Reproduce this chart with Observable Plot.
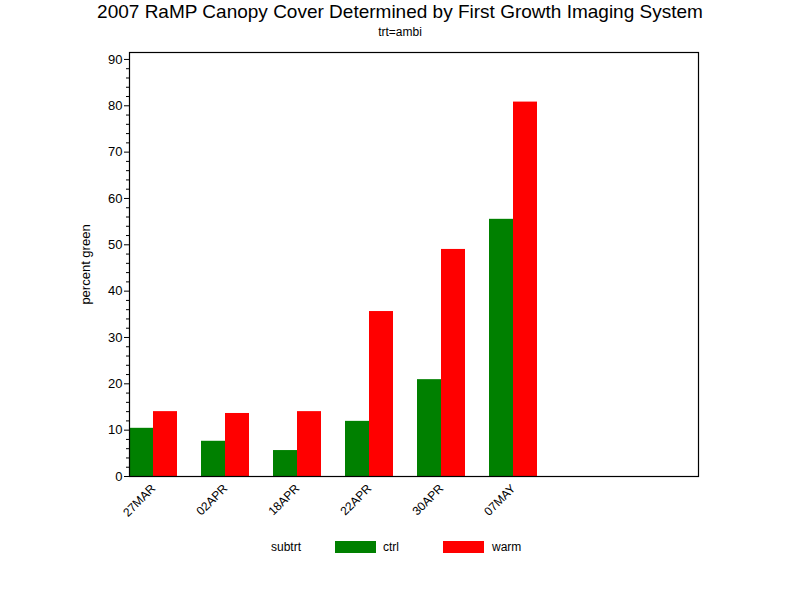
<!DOCTYPE html>
<html><head><meta charset="utf-8">
<script src="https://cdn.jsdelivr.net/npm/d3@7"></script>
<script src="https://cdn.jsdelivr.net/npm/@observablehq/plot@0.6"></script>
<style>
body{margin:0;background:#fff;font-family:"Liberation Sans","DejaVu Sans",sans-serif;}
#wrap{position:relative;width:800px;height:600px;}
.abs{position:absolute;white-space:nowrap;color:#000;z-index:2;}
</style></head>
<body><div id="wrap">
<div id="chart" style="position:absolute;left:0;top:0;z-index:1;"></div>
<div class="abs" id="title" style="left:0;width:800px;text-align:center;top:1px;font-size:19px;">2007 RaMP Canopy Cover Determined by First Growth Imaging System</div>
<div class="abs" id="sub" style="left:0;width:800px;text-align:center;top:25px;font-size:12px;">trt=ambi</div>
<div class="abs" id="legend" style="top:540px;left:0;font-size:12px;height:14px;line-height:14px;"></div>
</div>
<script>
const dates = ["27MAR","02APR","18APR","22APR","30APR","07MAY"];
const ctrl = [10.4, 7.6, 5.6, 11.9, 20.9, 55.5];
const warm = [14.0, 13.6, 14.0, 35.6, 49.0, 80.8];
const subtrts = ["ctrl","warm"];
const colors = ["#008000","#ff0000"];
const yTicks = d3.range(0, 91, 10);
const yMinor = d3.range(0, 91, 2).filter(v => v % 10 !== 0);

const ctrlRows = dates.map((d,i)=>({date:d, subtrt:"ctrl", value:ctrl[i]}));
const warmRows = dates.map((d,i)=>({date:d, subtrt:"warm", value:warm[i]}));

const font = '"Liberation Sans","DejaVu Sans",sans-serif';
const chart = Plot.plot({
  width: 800, height: 600,
  marginLeft: 129, marginRight: 102, marginTop: 52, marginBottom: 124,
  style: {fontFamily: font, fontSize: "12px", background: "white", color: "black"},
  x: {domain: dates, range: [129, 537], paddingInner: 1/3, paddingOuter: 0, axis: null},
  y: {domain: [0, 91.5], axis: null},
  color: {domain: subtrts, range: colors},
  marks: [
    Plot.barY(ctrlRows, {x:"date", y:"value", fill:"subtrt", insetRight: 24}),
    Plot.barY(warmRows, {x:"date", y:"value", fill:"subtrt", insetLeft: 24}),
    Plot.axisY({ticks: yTicks, tickSize: 5, tickPadding: 2, label: null, fontSize: 13}),
    Plot.axisY({ticks: yMinor, tickSize: 3, tickFormat: () => "", label: null}),
    Plot.axisX({tickSize: 0, tickRotate: -45, tickPadding: 10, label: null, fontSize: 12}),
    Plot.text(["percent green"], {frameAnchor: "left", textAnchor: "middle", rotate: -90, dx: -44, text: d => d, fontSize: 13}),
    Plot.frame({stroke: "black", strokeWidth: 1.2})
  ]
});
document.getElementById("chart").appendChild(chart);

// legend
const lg = document.getElementById("legend");
const mk = (html, left) => { const s = document.createElement("div"); s.className="abs"; s.style.left=left+"px"; s.style.top="0"; s.innerHTML=html; lg.appendChild(s); };
mk("subtrt", 271);
const sw = [335, 443], tx = [383, 492];
subtrts.forEach((s,i)=>{
  mk(`<div style="width:41px;height:12px;background:${colors[i]};margin-top:1px"></div>`, sw[i]);
  mk(s, tx[i]);
});
</script>
</body></html>
